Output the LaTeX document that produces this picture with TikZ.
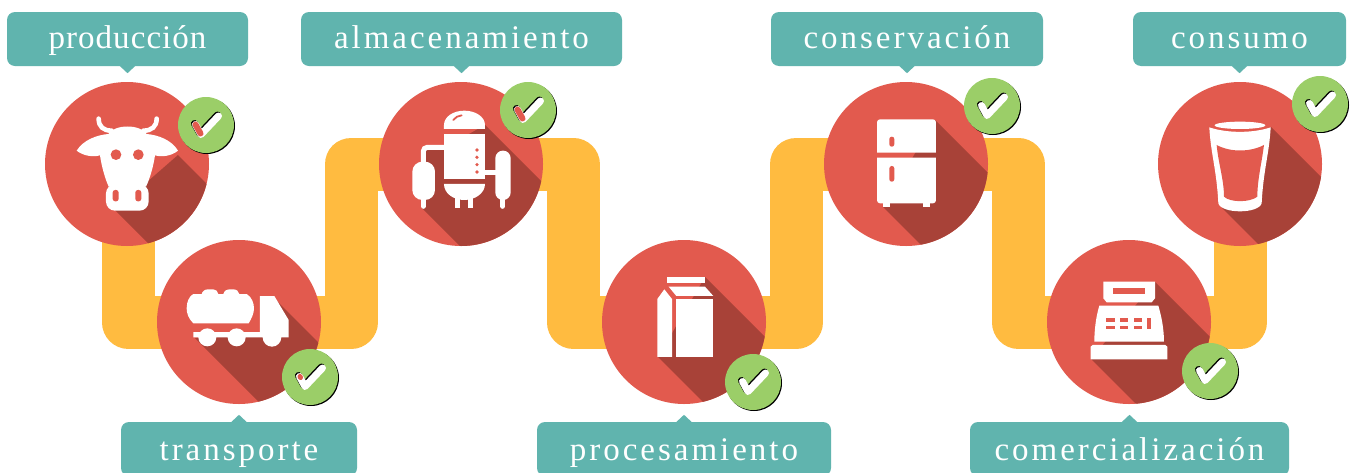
\documentclass[tikz,border=0pt]{standalone}
\usepackage{fontspec}
\setmainfont{Liberation Serif}
\newfontfamily\lblfont[LetterSpace=9]{Liberation Serif}
\newfontfamily\lblfonttight[LetterSpace=3.2]{Liberation Serif}
\usetikzlibrary{calc}
\definecolor{tealbox}{HTML}{60B4AE}
\definecolor{redc}{HTML}{E25A4E}
\definecolor{shade}{HTML}{A84238}
\definecolor{band}{HTML}{FFBB40}
\definecolor{greenb}{HTML}{9BCE68}
\tikzset{
  disc/.style={circle,fill=redc,minimum size=164pt,inner sep=0pt},
  badgeb/.style={circle,fill=greenb,minimum size=56pt,inner sep=0pt},
  toplabel/.style={rectangle,rounded corners=8pt,fill=tealbox,text=white,inner sep=0pt,minimum height=54pt,text height=22pt,text depth=4pt,font=\lblfont\fontsize{33}{36}\selectfont},
  botlabel/.style={toplabel,text height=24pt,text depth=2pt},
  route/.style={draw=band,line width=53pt,line join=round},
  longshadow/.style={fill=shade},
  ink/.style={fill=white},
  cut/.style={fill=redc},
  inkline/.style={draw=white,line cap=round},
  chkline/.style={line width=7pt,line cap=round,line join=round}
}
\newcommand{\tiptop}[1]{\fill[tealbox] ($(#1.south)+(-8,-0.5)$) -- ($(#1.south)+(0,7)$) -- ($(#1.south)+(8,-0.5)$) -- cycle;}
\newcommand{\tipbot}[1]{\fill[tealbox] ($(#1.north)+(-8,0.5)$) -- ($(#1.north)+(0,-7)$) -- ($(#1.north)+(8,0.5)$) -- cycle;}
\newcommand{\longshade}[2]{\begin{scope}\clip (#1.center) circle (82pt);\fill[longshadow] #2;\end{scope}}
\newcommand{\badgeat}[3]{%
  \fill[black] (#2+1,#3+1) circle (28pt);
  \node[badgeb] (#1) at (#2,#3) {};
  \draw[chkline,black] ($(#1)+(-11.5,-1.5)$) -- ($(#1)+(-6,8.5)$) -- ($(#1)+(11.5,-10)$);
  \draw[chkline,white] ($(#1)+(-10.5,-0.5)$) -- ($(#1)+(-5,9.5)$) -- ($(#1)+(12.5,-9)$);
}
\newcommand{\redarm}[1]{\draw[line width=6pt,line cap=round,redc] ($(#1)+(-10.5,-0.5)$) -- ($(#1)+(-5.5,8.5)$);}
\begin{document}
\begin{tikzpicture}[x=1pt,y=-1pt]
\useasboundingbox (0,0) rectangle (1357,472);
\fill[white] (0,0) rectangle (1357,472);

% turning points of the route
\coordinate (k1) at (128,322);
\coordinate (k2) at (351,322);
\coordinate (k3) at (351,164);
\coordinate (k4) at (573,164);
\coordinate (k5) at (573,322);
\coordinate (k6) at (796,322);
\coordinate (k7) at (796,164);
\coordinate (k8) at (1018,164);
\coordinate (k9) at (1018,322);
\coordinate (k10) at (1240,322);
\coordinate (k0) at (128,164);
\coordinate (k11) at (1240,164);
\draw[route] (k0) -- (k1) -- (k2) -- (k3) -- (k4) -- (k5) -- (k6) -- (k7) -- (k8) -- (k9) -- (k10) -- (k11);

\node[disc] (d1) at (127,164) {};
\node[disc] (d2) at (239,322) {};
\node[disc] (d3) at (461,164) {};
\node[disc] (d4) at (684,322) {};
\node[disc] (d5) at (906,164) {};
\node[disc] (d6) at (1129,322) {};
\node[disc] (d7) at (1240,164) {};

\longshade{d1}{(178,155) -- (308,285) -- (245,340) -- (115,210) -- cycle}
\longshade{d2}{(273,297) -- (403,427) -- (325,468) -- (195,338) -- (260,335) -- cycle}
\longshade{d3}{(485,125) -- (615,255) -- (552,338) -- (422,208) -- (425,148) -- (444,148) -- cycle}
\longshade{d4}{(705,277) -- (835,407) -- (788,487) -- (658,357) -- cycle}
\longshade{d5}{(935,120) -- (1065,250) -- (1013,337) -- (883,207) -- cycle}
\longshade{d6}{(1155,282) -- (1285,412) -- (1221,489) -- (1091,359) -- cycle}
\longshade{d7}{(1271,127) -- (1401,257) -- (1352,338) -- (1222,208) -- cycle}

% cow
\begin{scope}[shift={(40,80)},scale=0.3333]
  \draw[inkline,line width=4.6pt] (176,116) .. controls (176,140) and (190,152) .. (215,152);
  \draw[inkline,line width=4.6pt] (350,116) .. controls (350,140) and (335,152) .. (310,152);
  \fill[ink] (110,212) .. controls (130,180) and (170,165) .. (205,162) .. controls (225,132) and (300,132) .. (320,162) .. controls (355,165) and (395,180) .. (414,212) .. controls (395,228) and (365,232) .. (345,226) .. controls (340,260) and (330,295) .. (318,320) -- (206,320) .. controls (195,295) and (185,260) .. (180,226) .. controls (160,232) and (130,228) .. (110,212) -- cycle;
  \fill[ink,rounded corners=9pt] (198,313) -- (326,313) -- (326,392) -- (198,392) -- cycle;
  \fill[cut] (228,224) circle (16pt);
  \fill[cut] (295,224) circle (16pt);
  \fill[cut,rounded corners=2.5pt] (218,330) rectangle (236,364);
  \fill[cut,rounded corners=2.5pt] (286,330) rectangle (304,364);
\end{scope}

% tanker
\begin{scope}[shift={(150,270)},scale=0.3333]
  \fill[ink] (130,160) .. controls (115,145) and (110,130) .. (110,115) .. controls (110,95) and (118,78) .. (130,72) -- (155,72) .. controls (158,62) and (165,58) .. (175,58) -- (190,58) .. controls (198,58) and (203,64) .. (205,72) -- (220,72) .. controls (223,62) and (230,58) .. (240,58) -- (250,58) .. controls (260,58) and (266,64) .. (268,72) -- (290,72) .. controls (305,80) and (312,100) .. (312,115) .. controls (312,130) and (305,145) .. (296,160) -- cycle;
  \fill[ink] (130,186) -- (330,186) -- (330,78) -- (373,78) -- (416,150) -- (416,202) -- (130,202) -- cycle;
  \fill[ink] (172,202) circle (27pt);
  \fill[ink] (260,202) circle (27pt);
  \fill[ink] (366,202) circle (28pt);
\end{scope}

% tanks
\begin{scope}[shift={(370,60)},scale=0.3333]
  \fill[ink] (222,207) -- (222,195) .. controls (222,170) and (250,152) .. (283,152) .. controls (316,152) and (345,170) .. (345,195) -- (345,207) -- cycle;
  \fill[ink] (222,222) rectangle (345,357);
  \fill[ink] (222,372) -- (345,372) .. controls (345,400) and (315,420) .. (283,420) .. controls (250,420) and (222,400) .. (222,372) -- cycle;
  \fill[ink] (255,410) rectangle (270,445);
  \fill[ink] (295,410) rectangle (310,445);
  \draw[draw=redc,line width=1.8pt,line cap=round] (250,180) .. controls (255,172) and (265,167) .. (275,166);
  \foreach \yy in {270,292,314,336} {\fill[cut] (321,\yy) circle (5.5pt);}
  \draw[draw=white,line width=5pt,rounded corners=4pt] (222,262) -- (160,262) -- (160,315);
  \draw[draw=white,line width=5pt] (345,337) -- (385,337);
  \fill[ink,rounded corners=10pt] (127,305) rectangle (195,420);
  \fill[ink,rounded corners=7.5pt] (376,272) rectangle (422,420);
  \draw[inkline,line width=5pt] (160,415) -- (160,439);
  \draw[inkline,line width=5pt] (398,415) -- (398,439);
\end{scope}

% carton
\begin{scope}[shift={(590,230)},scale=0.3333]
  \fill[ink] (231,140) rectangle (344,160);
  \fill[ink] (236,170) -- (345,170) -- (370,198) -- (259,198) -- cycle;
  \fill[ink] (259,208) rectangle (370,381);
  \fill[ink] (202,207) -- (223,178) -- (246,207) -- (246,381) -- (202,381) -- cycle;
\end{scope}

% fridge
\begin{scope}[shift={(820,70)},scale=0.3333]
  \fill[ink] (171,248) {[rounded corners=3pt] -- (171,148) -- (348,148)} -- (348,248) -- cycle;
  \fill[ink] (171,263) -- (348,263) {[rounded corners=3pt] -- (348,400) -- (171,400)} -- cycle;
  \fill[ink] (190,395) rectangle (210,412);
  \fill[ink] (308,395) rectangle (330,412);
  \fill[cut,rounded corners=2.4pt] (208,200) rectangle (223,230);
  \fill[cut,rounded corners=2.4pt] (208,288) rectangle (223,335);
\end{scope}

% till
\begin{scope}[shift={(1040,230)},scale=0.3333]
  \fill[ink] (190,155) -- (345,155) -- (345,205) -- (335,217) -- (200,217) -- (190,205) -- cycle;
  \fill[cut] (220,175) rectangle (315,193);
  \fill[ink] (178,227) -- (355,227) .. controls (365,260) and (372,300) .. (372,335) -- (163,335) .. controls (163,300) and (168,260) .. (178,227) -- cycle;
  \foreach \xx in {199,240,281} {
    \fill[cut] (\xx,265) rectangle ++(25,11);
    \fill[cut] (\xx,287) rectangle ++(25,11);
  }
  \fill[cut] (321,265) rectangle (334,298);
  \fill[ink] (152,350) -- (158,345) -- (376,345) -- (382,350) -- (382,388) -- (152,388) -- cycle;
\end{scope}

% glass
\begin{scope}[shift={(1150,70)},scale=0.3333]
  \fill[ink] (178,172) .. controls (230,190) and (310,190) .. (362,172) .. controls (358,250) and (340,300) .. (335,400) .. controls (325,432) and (215,432) .. (205,400) .. controls (200,300) and (182,250) .. (178,172) -- cycle;
  \fill[cut] (200,225) .. controls (240,247) and (300,247) .. (342,225) .. controls (335,280) and (322,330) .. (322,380) .. controls (300,398) and (240,398) .. (222,380) .. controls (222,330) and (205,280) .. (200,225) -- cycle;
  \fill[ink] (270,166) ellipse (76pt and 11pt);
\end{scope}

\badgeat{b1}{206}{125}
\redarm{b1}
\badgeat{b2}{310}{377}
\draw[line width=5pt,line cap=round,redc] ($(b2)+(-10,-0.5)$) -- ($(b2)+(-9.5,0.5)$);
\badgeat{b3}{528}{110}
\redarm{b3}
\badgeat{b4}{753}{382}
\badgeat{b5}{992}{106}
\badgeat{b6}{1210}{371}
\badgeat{b7}{1320}{104}

\node[toplabel,minimum width=241pt,font=\lblfonttight\fontsize{33}{36}\selectfont] (l1) at (127.5,39) {producción};
\node[toplabel,minimum width=321pt] (l3) at (461.5,39) {almacenamiento};
\node[toplabel,minimum width=272pt] (l5) at (907,39) {conservación};
\node[toplabel,minimum width=213pt] (l7) at (1239.5,39) {consumo};
\node[botlabel,minimum width=236pt] (l2) at (239,449) {transporte};
\node[botlabel,minimum width=294pt] (l4) at (684,449) {procesamiento};
\node[botlabel,minimum width=319pt] (l6) at (1129.5,449) {comercialización};
\tiptop{l1}\tiptop{l3}\tiptop{l5}\tiptop{l7}
\tipbot{l2}\tipbot{l4}\tipbot{l6}
\end{tikzpicture}
\end{document}
